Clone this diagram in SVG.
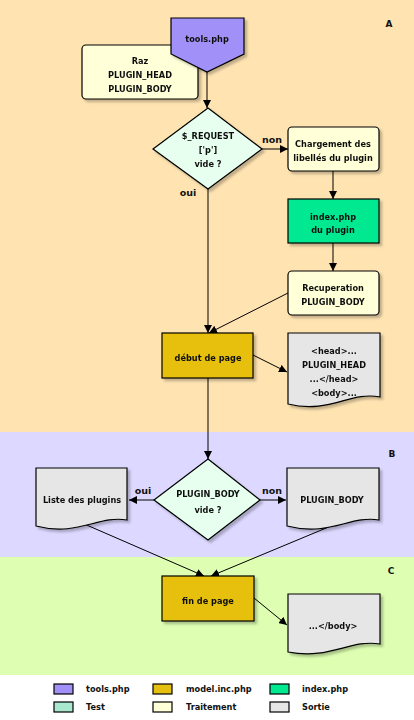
<svg xmlns="http://www.w3.org/2000/svg" width="414" height="720" viewBox="0 0 414 720">
<style>
text{font-family:"DejaVu Sans","Verdana",sans-serif;font-weight:bold;font-size:8.2px;fill:#111;text-anchor:middle}
.lg{text-anchor:start}
.band{font-size:9px}
.lbl{font-size:9.5px}
.n{stroke:#000;stroke-width:1.2}
.e{stroke:#000;stroke-width:1;fill:none;marker-end:url(#ah)}
.proc{fill:#FFFFD8}
.test{fill:#E6FFEE}
.doc{fill:#E6E6E6}
.model{fill:#E6C010}
</style>
<defs>
<marker id="ah" viewBox="0 0 10 10" refX="10" refY="5" markerWidth="8" markerHeight="8" markerUnits="userSpaceOnUse" orient="auto">
<path d="M0,0 L10,5 L0,10 z" fill="#000"/>
</marker>
<filter id="sh" x="-10%" y="-10%" width="130%" height="130%">
<feDropShadow dx="2.5" dy="2.5" stdDeviation="1.2" flood-color="#000" flood-opacity="0.25"/>
</filter>
</defs>
<rect x="0" y="0" width="414" height="432" fill="#FFE4B2"/>
<rect x="0" y="432" width="414" height="125" fill="#DCD8FF"/>
<rect x="0" y="557" width="414" height="118" fill="#DEFFB2"/>
<rect x="0" y="675" width="414" height="45" fill="#FFFFFF"/>
<text class="band" x="389" y="27">A</text>
<text class="band" x="392" y="457">B</text>
<text class="band" x="391" y="574">C</text>
<g id="connectors">
<path class="e" d="M207,72 V108"/>
<path class="e" d="M262,149 H288"/>
<path class="e" d="M333,171 V199"/>
<path class="e" d="M333,243 V271"/>
<path class="e" d="M208,189 V333"/>
<path class="e" d="M288,293 L209,333"/>
<path class="e" d="M253,355 L287,372"/>
<path class="e" d="M208,378 V459"/>
<path class="e" d="M154,500 H129"/>
<path class="e" d="M260,500 H286"/>
<path class="e" d="M82,523 L204,576"/>
<path class="e" d="M331,526 L211,576"/>
<path class="e" d="M254,598 L287,625"/>
</g>
<g id="labels">
<text class="lbl" x="272" y="143">non</text>
<text class="lbl" x="188" y="196">oui</text>
<text class="lbl" x="143" y="494">oui</text>
<text class="lbl" x="272" y="494">non</text>
</g>
<g id="raz" filter="url(#sh)">
<rect class="n proc" x="82" y="45" width="116" height="54" rx="4"/>
<text x="140" y="64">Raz</text>
<text x="140" y="78">PLUGIN_HEAD</text>
<text x="140" y="92">PLUGIN_BODY</text>
</g>
<g id="tools" filter="url(#sh)">
<path class="n" d="M171,18 H244 V54 L207,72 L171,54 z" fill="#A090F8"/>
<text x="207" y="42">tools.php</text>
</g>
<g id="test1" filter="url(#sh)">
<path class="n test" d="M208,108 L262,149 L208,189 L153,149 z"/>
<text x="208" y="139">$_REQUEST</text>
<text x="208" y="153">['p']</text>
<text x="208" y="167">vide ?</text>
</g>
<g id="chargement" filter="url(#sh)">
<rect class="n proc" x="288" y="127" width="91" height="44" rx="4"/>
<text x="333" y="147">Chargement des</text>
<text x="333" y="161">libellés du plugin</text>
</g>
<g id="index" filter="url(#sh)">
<rect class="n" x="288" y="199" width="91" height="44" fill="#00E890"/>
<text x="333" y="220">index.php</text>
<text x="333" y="233">du plugin</text>
</g>
<g id="recuperation" filter="url(#sh)">
<rect class="n proc" x="288" y="271" width="91" height="44" rx="4"/>
<text x="333" y="291">Recuperation</text>
<text x="333" y="305">PLUGIN_BODY</text>
</g>
<g id="debut" filter="url(#sh)">
<rect class="n model" x="162" y="333" width="91" height="45"/>
<text x="208" y="361">début de page</text>
</g>
<g id="head" filter="url(#sh)">
<path class="n doc" d="M288,333 H380 V397 C350,391 330,414 288,404 z"/>
<text x="334" y="354">&lt;head&gt;...</text>
<text x="334" y="368">PLUGIN_HEAD</text>
<text x="334" y="382">...&lt;/head&gt;</text>
<text x="334" y="396">&lt;body&gt;...</text>
</g>
<g id="test2" filter="url(#sh)">
<path class="n test" d="M208,459 L260,500 L208,540 L154,500 z"/>
<text x="208" y="497">PLUGIN_BODY</text>
<text x="208" y="513">vide ?</text>
</g>
<g id="liste" filter="url(#sh)">
<path class="n doc" d="M36,468 H127 V520 C98,515 78,537 36,526 z"/>
<text x="82" y="503">Liste des plugins</text>
</g>
<g id="body" filter="url(#sh)">
<path class="n doc" d="M287,468 H379 V520 C350,515 330,537 287,526 z"/>
<text x="332" y="503">PLUGIN_BODY</text>
</g>
<g id="fin" filter="url(#sh)">
<rect class="n model" x="162" y="576" width="92" height="45"/>
<text x="208" y="604">fin de page</text>
</g>
<g id="endbody" filter="url(#sh)">
<path class="n doc" d="M288,594 H380 V644 C350,639 330,660 288,652 z"/>
<text x="333" y="629">...&lt;/body&gt;</text>
</g>
<g id="legend">
<rect class="n" x="54" y="684" width="19" height="10" fill="#A090F8" stroke-width="1"/>
<text class="lg" x="86" y="692">tools.php</text>
<rect class="n" x="153" y="684" width="19" height="10" fill="#E6C010" stroke-width="1"/>
<text class="lg" x="186" y="692">model.inc.php</text>
<rect class="n" x="270" y="684" width="19" height="10" fill="#00E890" stroke-width="1"/>
<text class="lg" x="302" y="692">index.php</text>
<rect class="n" x="54" y="702" width="19" height="10" fill="#A8E8D0" stroke-width="1"/>
<text class="lg" x="86" y="710">Test</text>
<rect class="n" x="153" y="702" width="19" height="10" fill="#FFFFD8" stroke-width="1"/>
<text class="lg" x="186" y="710">Traitement</text>
<rect class="n" x="270" y="702" width="19" height="10" fill="#E6E6E6" stroke-width="1"/>
<text class="lg" x="302" y="710">Sortie</text>
</g>
</svg>
